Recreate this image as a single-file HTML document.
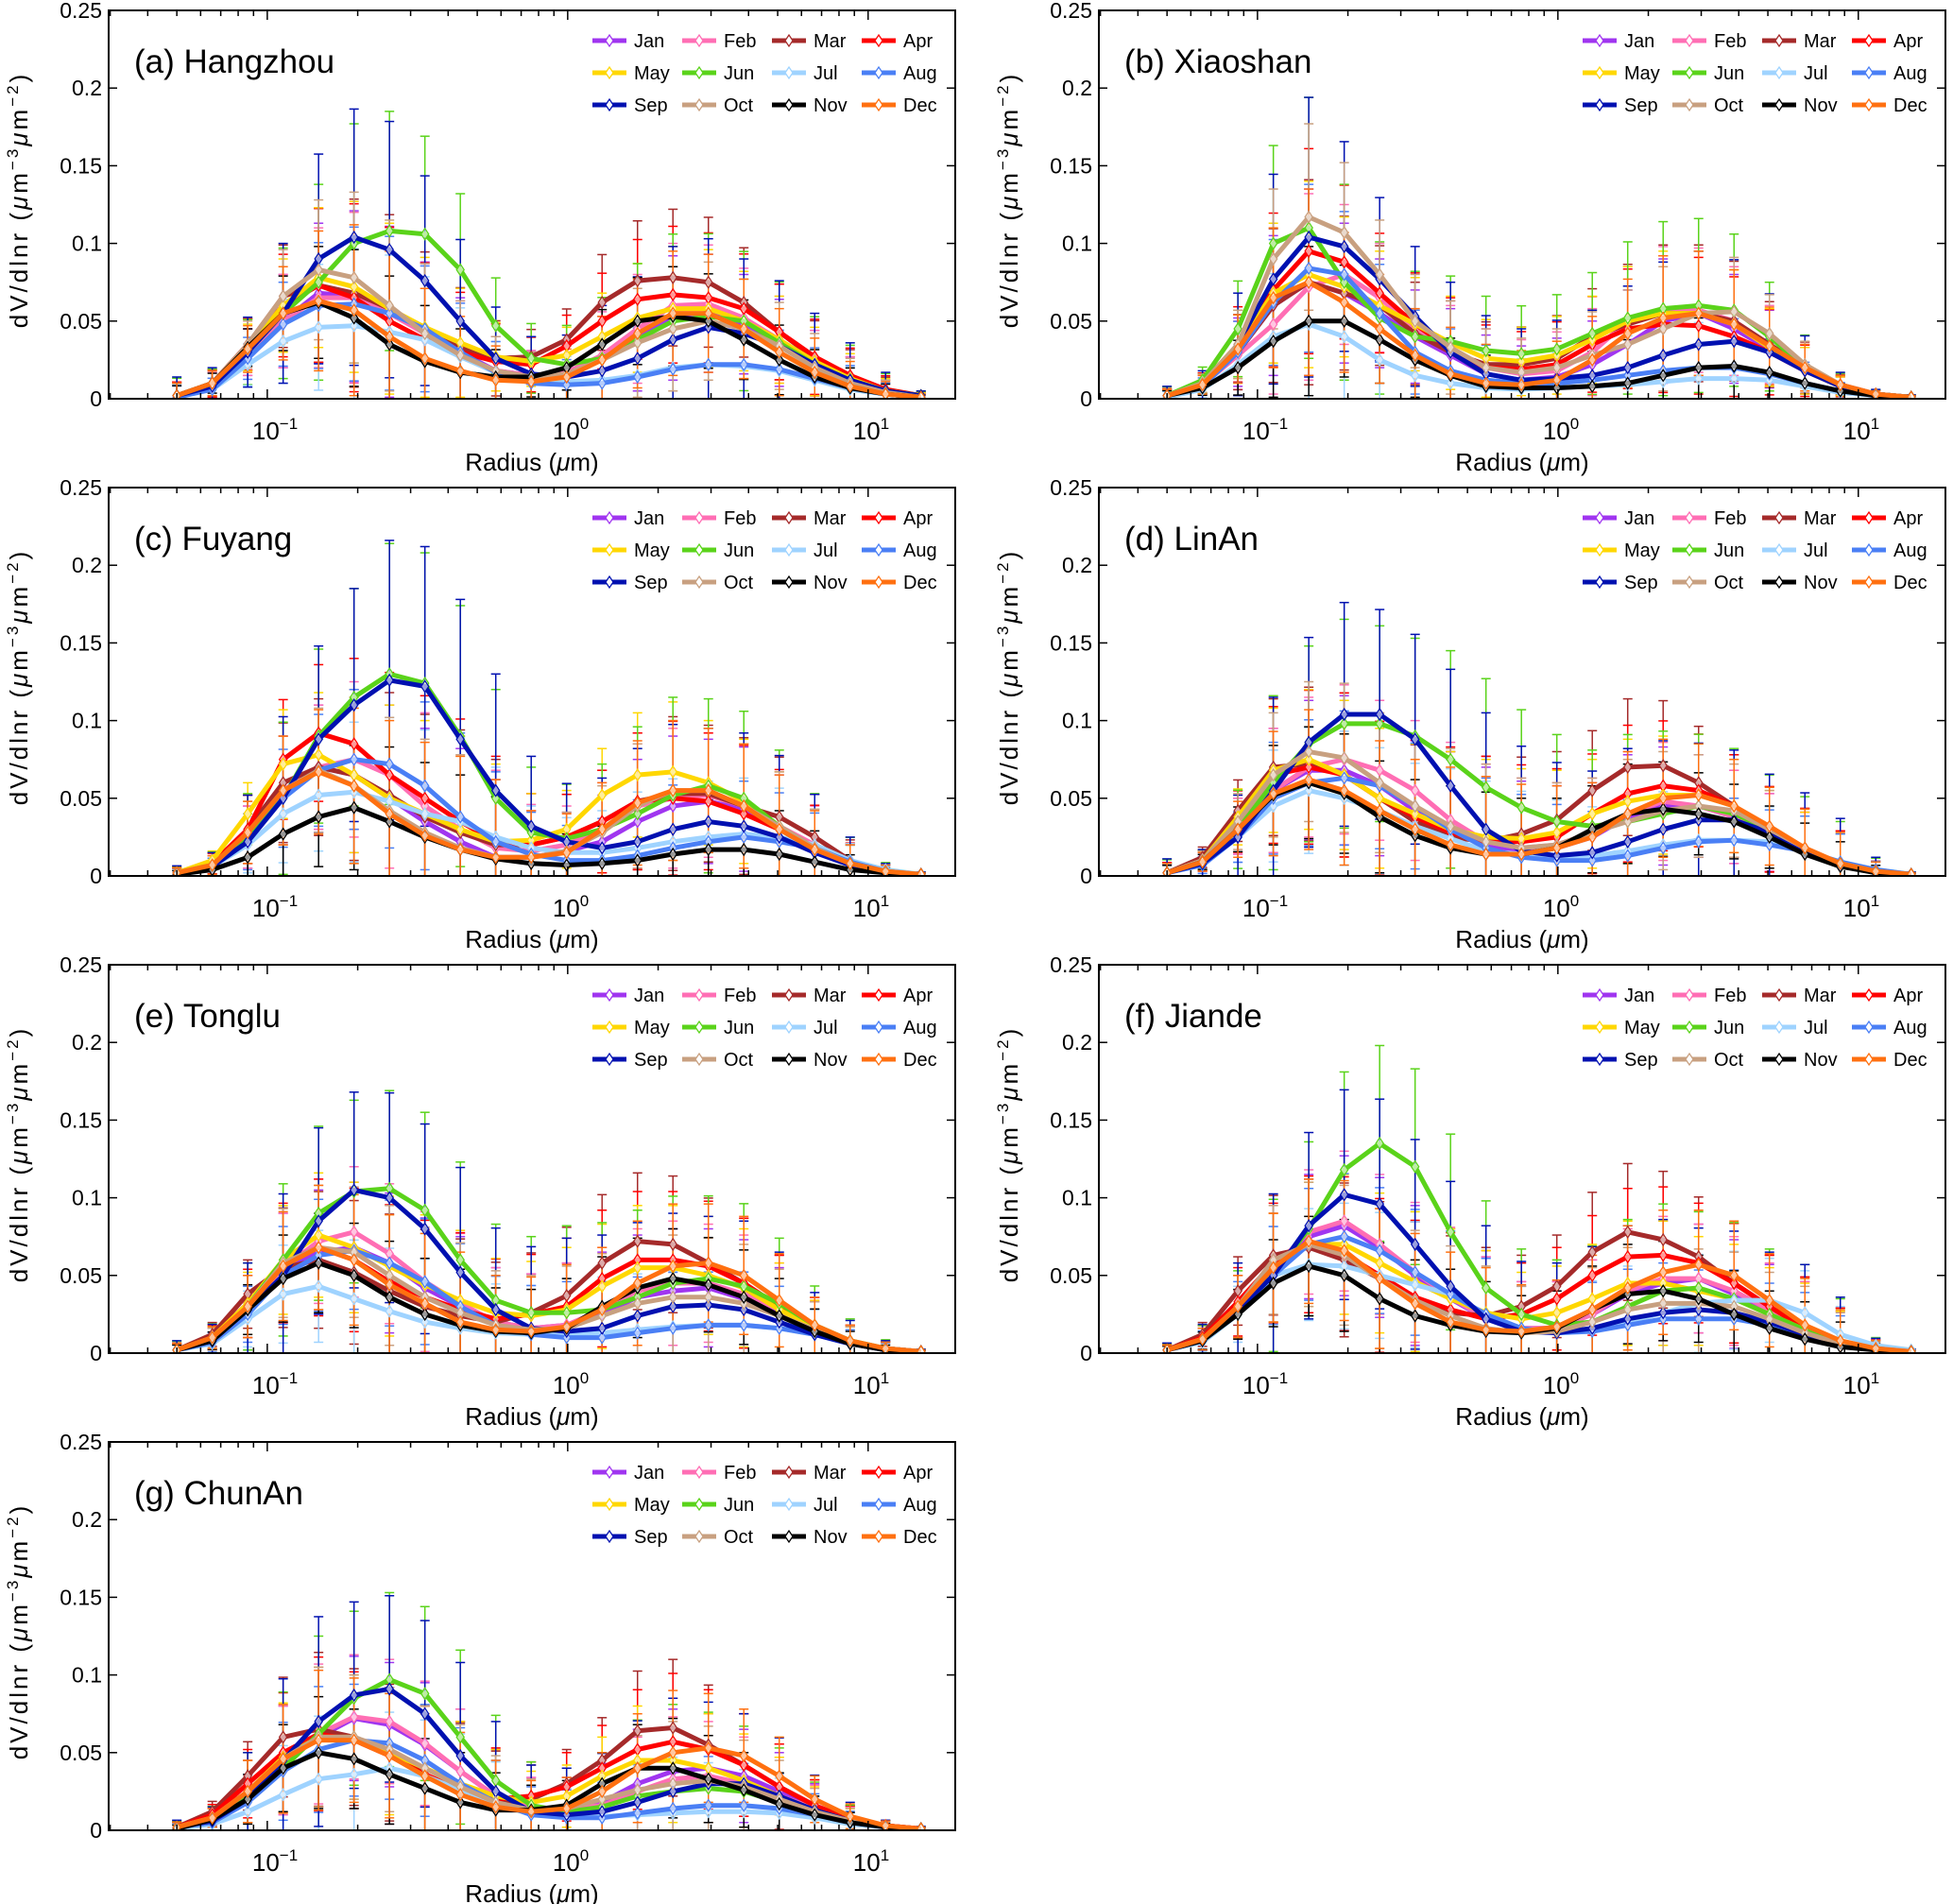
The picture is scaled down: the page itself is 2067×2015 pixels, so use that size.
<!DOCTYPE html>
<html><head><meta charset="utf-8"><style>
html,body{margin:0;padding:0;background:#fff;}
svg{display:block;font-family:"Liberation Sans",Arial,sans-serif;}
</style></head><body>
<svg id="fig" width="2067" height="2015" viewBox="0 0 2067 2015" xmlns="http://www.w3.org/2000/svg"></svg>
<script>
const radii=[0.05,0.065604,0.086077,0.112939,0.148184,0.194429,0.255105,0.334716,0.439173,0.576227,0.756052,0.991996,1.301571,1.707757,2.240702,2.939966,3.857452,5.06126,6.640745,8.713145,11.432287,15.0];
const months=["Jan","Feb","Mar","Apr","May","Jun","Jul","Aug","Sep","Oct","Nov","Dec"];
const monthColors=["#a035f0","#ff6eb4","#a52a2a","#ff0000","#ffd700","#5ad31a","#9fd3ff","#4a7ff5","#0010b0","#c8a080","#000000","#ff7010"];
const stations=["(a) Hangzhou","(b) Xiaoshan","(c) Fuyang","(d) LinAn","(e) Tonglu","(f) Jiande","(g) ChunAn"];
const yTicks=[0,0.05,0.1,0.15,0.2,0.25];
const yTickLabels=["0","0.05","0.1","0.15","0.2","0.25"];
const errScale=[1,1,1.1,1.1,1,1.4,0.9,0.9,1.5,1,0.8,1];

const hangzhou=[
[.002,.009,.03,.05,.068,.066,.056,.043,.03,.018,.015,.017,.025,.04,.052,.055,.048,.036,.022,.011,.004,.001],
[.002,.009,.03,.05,.065,.065,.055,.042,.028,.018,.015,.017,.028,.045,.06,.061,.052,.038,.022,.011,.004,.001],
[.002,.01,.035,.066,.073,.068,.058,.045,.033,.026,.027,.038,.062,.076,.078,.075,.062,.043,.026,.014,.005,.002],
[.002,.01,.035,.06,.073,.065,.05,.038,.03,.024,.022,.034,.05,.064,.067,.065,.058,.043,.027,.015,.006,.002],
[.002,.01,.033,.06,.078,.072,.058,.046,.036,.027,.024,.028,.04,.052,.058,.058,.05,.038,.024,.013,.005,.002],
[.002,.008,.03,.055,.075,.1,.108,.106,.083,.047,.026,.022,.026,.038,.05,.053,.05,.036,.022,.012,.005,.002],
[.002,.006,.022,.037,.046,.047,.043,.038,.027,.017,.012,.011,.012,.015,.02,.022,.021,.018,.012,.006,.003,.001],
[.001,.006,.026,.048,.06,.061,.055,.045,.03,.017,.01,.009,.01,.014,.019,.022,.022,.019,.013,.007,.003,.001],
[.002,.008,.03,.055,.09,.104,.096,.076,.05,.026,.016,.014,.018,.026,.038,.046,.042,.034,.022,.012,.005,.002],
[.002,.01,.035,.066,.083,.078,.06,.042,.028,.018,.014,.016,.025,.036,.045,.05,.045,.034,.02,.01,.004,.001],
[.002,.01,.033,.055,.062,.052,.035,.024,.017,.014,.014,.02,.035,.05,.053,.05,.038,.025,.014,.007,.003,.001],
[.002,.01,.032,.055,.063,.057,.04,.026,.018,.012,.011,.014,.025,.042,.055,.055,.045,.03,.017,.008,.003,.001]];
const xiaoshan=[
[.002,.009,.03,.06,.075,.068,.055,.04,.028,.016,.012,.014,.022,.035,.05,.055,.045,.032,.018,.008,.003,.001],
[.002,.009,.028,.048,.072,.08,.065,.045,.03,.02,.016,.018,.03,.05,.058,.057,.05,.035,.02,.009,.003,.001],
[.002,.01,.03,.06,.075,.068,.06,.042,.03,.022,.022,.026,.04,.048,.055,.055,.05,.035,.02,.009,.003,.001],
[.002,.01,.035,.07,.095,.088,.068,.048,.032,.02,.019,.022,.035,.045,.048,.047,.04,.03,.018,.008,.003,.001],
[.002,.01,.035,.068,.08,.072,.06,.048,.036,.026,.024,.028,.038,.05,.055,.055,.048,.033,.018,.008,.003,.001],
[.002,.012,.045,.1,.11,.075,.052,.04,.037,.031,.029,.032,.042,.052,.058,.06,.057,.04,.02,.008,.003,.001],
[.001,.006,.022,.04,.048,.04,.025,.015,.01,.007,.006,.007,.008,.009,.011,.013,.013,.012,.008,.004,.002,.001],
[.002,.008,.03,.062,.084,.08,.055,.03,.018,.012,.01,.01,.012,.015,.018,.02,.02,.016,.01,.005,.002,.001],
[.002,.009,.035,.077,.104,.098,.077,.053,.03,.016,.012,.013,.015,.02,.028,.035,.037,.03,.018,.008,.003,.001],
[.002,.01,.035,.09,.117,.107,.08,.05,.033,.02,.017,.02,.028,.035,.045,.055,.056,.042,.022,.009,.003,.001],
[.002,.007,.02,.037,.05,.05,.038,.025,.015,.008,.007,.007,.008,.01,.015,.02,.021,.017,.01,.005,.002,.001],
[.002,.009,.032,.065,.075,.062,.045,.028,.016,.01,.009,.012,.025,.042,.052,.055,.048,.034,.02,.009,.003,.001]];
const fuyang=[
[.002,.007,.025,.055,.07,.065,.05,.035,.022,.012,.012,.016,.022,.035,.045,.048,.043,.03,.018,.008,.003,.001],
[.002,.007,.025,.055,.07,.075,.065,.045,.03,.018,.016,.02,.03,.045,.05,.052,.045,.032,.02,.009,.003,.001],
[.002,.008,.03,.06,.07,.065,.052,.038,.028,.02,.02,.025,.035,.048,.053,.053,.045,.038,.025,.01,.003,.001],
[.002,.008,.03,.075,.092,.085,.065,.05,.035,.022,.02,.025,.035,.048,.05,.048,.04,.03,.018,.008,.003,.001],
[.002,.01,.04,.072,.078,.065,.05,.04,.03,.022,.023,.03,.052,.065,.067,.06,.048,.032,.018,.008,.003,.001],
[.002,.007,.025,.05,.09,.115,.13,.124,.09,.05,.028,.024,.03,.04,.052,.058,.05,.032,.018,.008,.003,.001],
[.002,.006,.02,.04,.052,.054,.048,.04,.035,.025,.018,.015,.015,.018,.022,.025,.027,.025,.02,.01,.004,.001],
[.002,.006,.022,.05,.068,.075,.072,.058,.038,.022,.014,.01,.01,.013,.018,.022,.025,.022,.018,.009,.003,.001],
[.002,.006,.022,.05,.088,.11,.126,.122,.088,.055,.032,.022,.018,.022,.03,.035,.032,.025,.015,.007,.002,.001],
[.002,.007,.028,.055,.068,.058,.042,.028,.018,.012,.012,.016,.028,.045,.055,.055,.045,.032,.018,.008,.003,.001],
[.001,.004,.012,.027,.038,.044,.035,.025,.017,.011,.008,.007,.008,.01,.014,.017,.017,.014,.009,.004,.002,.001],
[.002,.007,.028,.055,.067,.058,.04,.026,.017,.012,.012,.015,.03,.047,.055,.055,.045,.03,.017,.008,.003,.001]];
const linan=[
[.002,.009,.032,.055,.068,.068,.058,.042,.03,.02,.016,.018,.025,.038,.045,.045,.038,.028,.016,.007,.003,.001],
[.002,.009,.032,.055,.07,.075,.068,.055,.036,.022,.018,.02,.028,.04,.048,.045,.038,.028,.016,.007,.003,.001],
[.002,.012,.042,.07,.072,.065,.05,.035,.025,.022,.027,.036,.055,.07,.071,.06,.045,.03,.016,.007,.003,.001],
[.002,.01,.035,.065,.07,.065,.05,.038,.028,.022,.022,.025,.04,.053,.058,.055,.045,.03,.016,.007,.003,.001],
[.002,.01,.038,.068,.075,.065,.05,.04,.03,.025,.024,.028,.04,.048,.052,.052,.045,.03,.016,.007,.003,.001],
[.002,.008,.03,.06,.085,.098,.098,.09,.075,.057,.044,.035,.032,.035,.04,.045,.04,.03,.016,.007,.003,.001],
[.002,.007,.025,.045,.055,.05,.042,.032,.024,.016,.014,.013,.013,.016,.02,.023,.023,.022,.016,.009,.004,.001],
[.002,.007,.025,.05,.06,.063,.058,.045,.03,.018,.012,.01,.01,.013,.018,.022,.023,.02,.016,.009,.004,.001],
[.002,.008,.025,.055,.086,.104,.104,.088,.058,.03,.016,.013,.015,.022,.03,.036,.036,.028,.016,.007,.003,.001],
[.002,.01,.035,.065,.08,.076,.06,.045,.032,.022,.018,.02,.028,.035,.042,.045,.042,.03,.018,.008,.003,.001],
[.002,.009,.03,.052,.06,.053,.038,.026,.018,.014,.014,.018,.03,.04,.043,.04,.035,.025,.014,.006,.002,.001],
[.002,.009,.03,.053,.062,.055,.042,.03,.02,.014,.014,.018,.025,.04,.05,.052,.045,.032,.018,.008,.003,.001]];
const tonglu=[
[.002,.009,.03,.055,.065,.068,.058,.042,.03,.02,.016,.018,.025,.036,.04,.042,.035,.025,.015,.007,.003,.001],
[.002,.009,.03,.055,.072,.078,.064,.046,.032,.02,.016,.018,.028,.04,.045,.045,.038,.028,.016,.007,.003,.001],
[.002,.012,.038,.055,.06,.052,.04,.03,.024,.02,.026,.037,.058,.072,.07,.058,.045,.03,.016,.007,.003,.001],
[.002,.01,.032,.058,.068,.06,.046,.036,.028,.022,.025,.03,.048,.06,.06,.056,.045,.03,.016,.007,.003,.001],
[.002,.01,.032,.06,.076,.068,.056,.044,.034,.026,.024,.028,.043,.055,.055,.05,.042,.028,.016,.007,.003,.001],
[.002,.009,.03,.06,.09,.104,.106,.092,.06,.034,.026,.026,.028,.036,.045,.048,.043,.032,.018,.008,.003,.001],
[.002,.006,.022,.038,.043,.035,.027,.02,.016,.013,.012,.012,.013,.015,.017,.018,.018,.016,.012,.006,.003,.001],
[.002,.007,.025,.05,.063,.066,.058,.046,.03,.018,.012,.01,.01,.013,.016,.018,.018,.016,.012,.006,.003,.001],
[.002,.008,.028,.05,.085,.105,.1,.08,.052,.028,.016,.014,.016,.024,.03,.031,.028,.02,.012,.006,.002,.001],
[.002,.009,.03,.058,.068,.065,.05,.036,.026,.018,.015,.016,.024,.032,.036,.036,.032,.024,.015,.007,.003,.001],
[.002,.008,.028,.048,.058,.05,.036,.025,.018,.014,.013,.016,.03,.042,.048,.044,.036,.024,.014,.006,.002,.001],
[.002,.01,.03,.056,.068,.06,.044,.032,.02,.015,.014,.017,.028,.045,.056,.058,.05,.034,.018,.008,.003,.001]];
const jiande=[
[.002,.009,.03,.055,.075,.082,.068,.05,.035,.022,.016,.016,.025,.038,.045,.048,.038,.027,.016,.007,.003,.001],
[.002,.009,.03,.055,.078,.085,.07,.052,.036,.022,.016,.016,.025,.04,.048,.048,.04,.028,.016,.007,.003,.001],
[.002,.012,.04,.063,.068,.06,.048,.035,.026,.024,.03,.043,.065,.078,.073,.062,.045,.03,.016,.007,.003,.001],
[.002,.01,.033,.058,.07,.064,.05,.036,.028,.022,.025,.035,.05,.062,.063,.058,.045,.03,.016,.007,.003,.001],
[.002,.009,.03,.055,.07,.07,.058,.046,.035,.026,.022,.026,.035,.045,.045,.04,.035,.025,.015,.007,.003,.001],
[.002,.008,.025,.05,.08,.118,.135,.12,.078,.042,.025,.018,.02,.03,.04,.042,.035,.025,.015,.007,.003,.001],
[.002,.007,.025,.05,.057,.056,.05,.044,.038,.025,.016,.013,.015,.02,.026,.032,.034,.034,.026,.012,.005,.002],
[.002,.008,.028,.05,.07,.075,.066,.052,.038,.025,.016,.013,.014,.018,.022,.022,.022,.018,.012,.006,.003,.001],
[.002,.008,.028,.05,.082,.102,.096,.07,.043,.022,.014,.013,.016,.022,.026,.028,.026,.02,.012,.006,.002,.001],
[.002,.009,.03,.06,.07,.063,.048,.034,.024,.016,.013,.014,.02,.028,.032,.032,.03,.022,.013,.006,.002,.001],
[.002,.008,.025,.045,.056,.05,.035,.024,.018,.014,.013,.016,.028,.038,.04,.035,.025,.016,.009,.004,.002,.001],
[.002,.009,.03,.055,.072,.066,.048,.032,.02,.015,.014,.017,.028,.042,.052,.057,.05,.034,.018,.008,.003,.001]];
const chunan=[
[.002,.008,.025,.045,.06,.072,.068,.055,.038,.022,.014,.014,.018,.03,.038,.04,.035,.025,.015,.007,.003,.001],
[.002,.008,.025,.045,.062,.073,.07,.056,.038,.022,.014,.014,.016,.025,.033,.035,.03,.022,.014,.007,.003,.001],
[.002,.012,.035,.06,.065,.06,.05,.036,.025,.018,.02,.03,.045,.064,.066,.055,.042,.028,.016,.007,.003,.001],
[.002,.01,.03,.05,.062,.058,.048,.036,.026,.02,.022,.028,.04,.052,.057,.052,.042,.028,.016,.007,.003,.001],
[.002,.008,.025,.047,.06,.06,.05,.04,.03,.022,.018,.022,.035,.045,.045,.04,.032,.022,.013,.006,.002,.001],
[.002,.007,.022,.04,.062,.085,.097,.088,.06,.032,.016,.012,.015,.022,.025,.027,.025,.018,.01,.005,.002,.001],
[.001,.004,.012,.023,.033,.036,.04,.035,.026,.017,.011,.009,.009,.01,.011,.012,.012,.011,.008,.004,.002,.001],
[.002,.005,.018,.038,.052,.058,.056,.045,.03,.018,.01,.008,.008,.011,.014,.016,.016,.014,.01,.005,.002,.001],
[.002,.006,.02,.045,.07,.087,.091,.075,.048,.025,.012,.01,.012,.018,.025,.03,.03,.022,.013,.006,.002,.001],
[.002,.008,.025,.046,.06,.06,.052,.04,.028,.018,.013,.014,.02,.026,.03,.032,.028,.02,.012,.006,.002,.001],
[.001,.007,.02,.04,.05,.046,.036,.027,.018,.013,.013,.016,.03,.04,.04,.033,.026,.017,.01,.005,.002,.001],
[.002,.008,.025,.046,.058,.058,.048,.035,.023,.015,.012,.014,.025,.04,.05,.053,.048,.035,.02,.009,.003,.001]];
const errHangzhou=[.008,.008,.015,.03,.045,.055,.055,.045,.035,.022,.016,.018,.028,.035,.04,.038,.032,.028,.022,.016,.008,.002];
const errXiaoshan=[.004,.006,.022,.045,.06,.045,.035,.03,.03,.025,.022,.025,.028,.035,.04,.04,.035,.025,.015,.006,.002,.001];
const errFuyang=[.003,.006,.02,.035,.04,.05,.06,.06,.06,.05,.03,.025,.03,.04,.045,.04,.04,.035,.025,.012,.004,.001];
const errLinan=[.006,.006,.018,.04,.045,.048,.045,.045,.05,.05,.045,.04,.035,.04,.038,.033,.03,.025,.025,.02,.006,.001];
const errTonglu=[.004,.007,.02,.035,.04,.042,.045,.045,.045,.035,.035,.04,.04,.04,.04,.038,.038,.03,.018,.01,.004,.001];
const errJiande=[.003,.007,.02,.035,.04,.045,.045,.045,.045,.04,.03,.03,.035,.04,.04,.035,.035,.03,.03,.02,.005,.001];
const errChunan=[.003,.006,.02,.035,.045,.04,.04,.04,.04,.03,.02,.02,.025,.035,.04,.035,.03,.025,.015,.008,.003,.001];

const panelData=[hangzhou,xiaoshan,fuyang,linan,tonglu,jiande,chunan];
const panelErr=[errHangzhou,errXiaoshan,errFuyang,errLinan,errTonglu,errJiande,errChunan];
const panelNames=["hangzhou","xiaoshan","fuyang","linan","tonglu","jiande","chunan"];

const NS="http://www.w3.org/2000/svg";
const svg=document.getElementById('fig');
function mk(tag,attrs,parent){const e=document.createElementNS(NS,tag);for(const k in attrs)e.setAttribute(k,attrs[k]);(parent||svg).appendChild(e);return e;}

const PW=896,PH=411;
const LOGMIN=Math.log10(0.02965),LOGMAX=Math.log10(19.5);
function panelOrigin(p){return {x:(p%2===0)?115:1163,y:11+Math.floor(p/2)*505};}

for(let p=0;p<7;p++){
  const o=panelOrigin(p);
  const xs=v=>o.x+(Math.log10(v)-LOGMIN)/(LOGMAX-LOGMIN)*PW;
  const ys=v=>o.y+PH-(v/0.25)*PH;
  const g=mk('g',{});
  
  
  const clipId='clip'+p;
  const cp=mk('clipPath',{id:clipId},g);mk('rect',{x:o.x,y:o.y,width:PW,height:PH},cp);
  const plot=mk('g',{'clip-path':'url(#'+clipId+')'},g);
  
  
  const D=panelData[p],E=panelErr[p];
  for(let m=0;m<12;m++){
    const eb=mk('g',{stroke:monthColors[m],'stroke-width':1.5,fill:'none'},plot);
    
    
    for(let i=0;i<radii.length;i++){
      const v=D[m][i],e=E[i]*errScale[m];
      const x=xs(radii[i]),y1=ys(Math.max(0,v-e)),y2=ys(v+e);
      mk('line',{x1:x,y1:y1,x2:x,y2:y2},eb);
      mk('line',{x1:x-5,y1:y1,x2:x+5,y2:y1},eb);
      mk('line',{x1:x-5,y1:y2,x2:x+5,y2:y2},eb);
    }
  }
  for(let m=0;m<12;m++){
    const pts=radii.map((r,i)=>xs(r).toFixed(1)+','+ys(D[m][i]).toFixed(1)).join(' ');
    const pl=mk('polyline',{points:pts,fill:'none',stroke:monthColors[m],'stroke-width':5,'stroke-linejoin':'round'},plot);
    
    
    const mg=mk('g',{fill:'none',stroke:monthColors[m],'stroke-width':1.3},plot);
    
    
    radii.forEach((r,i)=>{const x=xs(r),y=ys(D[m][i]);
      mk('path',{d:`M${x},${y-6}L${x+4},${y}L${x},${y+6}L${x-4},${y}Z`,fill:'#fff','fill-opacity':0.6},mg);});
  }
  const fr=mk('rect',{x:o.x,y:o.y,width:PW,height:PH,fill:'none',stroke:'#000','stroke-width':2},g);
  
  
  const yax=mk('g',{},g);
  
  
  yTicks.forEach((t,k)=>{const y=ys(t);
    mk('line',{x1:o.x,y1:y,x2:o.x+9,y2:y,stroke:'#000','stroke-width':1.5},yax);
    mk('line',{x1:o.x+PW,y1:y,x2:o.x+PW-9,y2:y,stroke:'#000','stroke-width':1.5},yax);
    const tx=mk('text',{x:o.x-7,y:y+8,'text-anchor':'end','font-size':23,fill:'#000'},yax);
    tx.textContent=yTickLabels[k];
    
    
  });
  const xax=mk('g',{},g);
  
  
  for(let d=-2;d<=1;d++){for(let k=1;k<=9;k++){const v=k*Math.pow(10,d);
    if(v<0.0297||v>19.5)continue;const x=xs(v);const L=k===1?10:6;
    mk('line',{x1:x,y1:o.y+PH,x2:x,y2:o.y+PH-L,stroke:'#000','stroke-width':1.5},xax);
    mk('line',{x1:x,y1:o.y,x2:x,y2:o.y+L,stroke:'#000','stroke-width':1.5},xax);}}
  [-1,0,1].forEach(d=>{const x=xs(Math.pow(10,d));
    const tx=mk('text',{x:x-16,y:o.y+PH+43,'font-size':26,fill:'#000'},xax);
    
    
    tx.textContent='10';
    const sp=mk('tspan',{dy:-11,'font-size':17},tx);sp.textContent=(d<0?'\u2212':'')+Math.abs(d);
  });
  const xl=mk('text',{x:o.x+PW/2,y:o.y+PH+76,'text-anchor':'middle','font-size':26,fill:'#000'},g);
  
  
  xl.innerHTML='Radius (<tspan font-style="italic">\u03bc</tspan>m)';
  const yl=mk('text',{transform:`translate(${o.x-86},${o.y+PH/2-5}) rotate(-90)`,'text-anchor':'middle','font-size':26,'letter-spacing':'3',fill:'#000'},g);
  
  
  yl.innerHTML='dV/dlnr (<tspan font-style="italic">\u03bc</tspan>m<tspan dy="-10" font-size="17">\u22123</tspan><tspan dy="10" font-style="italic">\u03bc</tspan>m<tspan dy="-10" font-size="17">\u22122</tspan><tspan dy="10">)</tspan>';
  const ti=mk('text',{x:o.x+27,y:o.y+66,'font-size':35,fill:'#000'},g);
  ti.textContent=stations[p];
  
  
  const lg=mk('g',{},g);
  
  
  for(let m=0;m<12;m++){
    const cx=o.x+512+(m%4)*95,cy=o.y+32+Math.floor(m/4)*34;
    const en=mk('g',{},lg);
    
    
    mk('line',{x1:cx,y1:cy,x2:cx+36,y2:cy,stroke:monthColors[m],'stroke-width':5},en);
    mk('path',{d:`M${cx+18},${cy-6}L${cx+22},${cy}L${cx+18},${cy+6}L${cx+14},${cy}Z`,fill:'#fff',stroke:monthColors[m],'stroke-width':1.3},en);
    const t=mk('text',{x:cx+44,y:cy+7,'font-size':20,fill:'#000'},en);t.textContent=months[m];
  }
}
</script>
</body></html>
